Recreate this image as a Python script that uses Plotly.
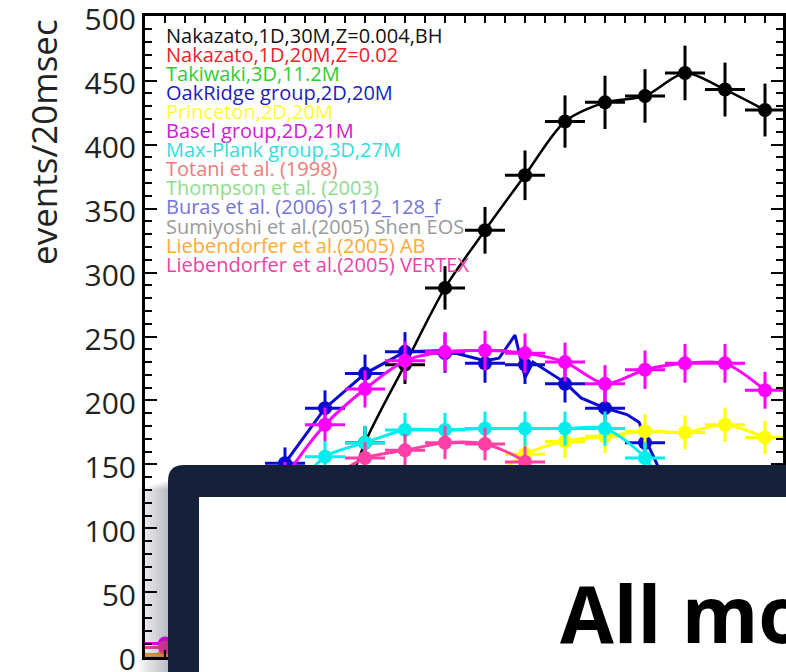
import numpy as np
import plotly.graph_objects as go

# Bin centres (ms after bounce), 20 ms bins
t_ms = [10, 30, 50, 70, 90, 110, 130, 150, 170, 190, 210, 230, 250, 270, 290, 310]

# events / 20 msec for each model
nakazato_30m_bh = [1, 2, 4, 20, 80, 167, 228, 288, 333, 376, 418, 433, 438, 456, 443, 427]
nakazato_20m = [1, 30, 60, 80, 90, 95, 95, 92, 88, 84, 80, 76, 72, 68, 64, 60]
takiwaki_3d = [1, 25, 55, 75, 85, 90, 88, 85, 80, 76, 72, 68, 64, 60, 56, 52]
oakridge_2d = [1, 40, 100, 151, 194, 221, 238, 237, 229, 228, 213, 194, 167, 110, 60, 30]
princeton_2d = [1, 15, 40, 70, 95, 110, 120, 128, 135, 158, 168, 172, 176, 175, 181, 171]
basel_2d = [10, 35, 90, 140, 181, 209, 231, 238, 239, 237, 230, 213, 224, 229, 229, 208]
maxplank_3d = [1, 25, 70, 120, 156, 167, 177, 177, 178, 178, 178, 178, 155, 100, 60, 40]
totani_1998 = [1, 40, 80, 100, 110, 118, 124, 128, 130, 125, 115, 105, 95, 88, 80, 75]
thompson_2003 = [1, 35, 70, 90, 100, 104, 104, 100, 96, 92, 88, 84, 80, 76, 72, 68]
buras_2006 = [1, 30, 65, 85, 95, 100, 100, 98, 94, 90, 86, 82, 78, 74, 70, 66]
sumiyoshi_2005 = [1, 30, 60, 82, 92, 98, 98, 96, 92, 88, 84, 80, 76, 72, 68, 64]
liebendorfer_ab = [1, 32, 66, 88, 98, 104, 106, 104, 100, 96, 90, 86, 82, 78, 74, 70]
liebendorfer_vertex = [7, 25, 60, 100, 135, 155, 161, 167, 166, 152, 120, 90, 75, 65, 58, 52]

# finer-resolution OakRidge rate (the unbinned curve)
oakridge_fine_t = [10, 30, 50, 70, 90, 110, 130, 150, 170, 177, 185, 190, 194,
                   210, 218, 230, 241, 247, 251, 262, 275, 290, 310]
oakridge_fine = [1, 40, 100, 151, 194, 221, 238, 239, 231, 233, 251, 218, 230,
                 214, 202, 194, 189, 183, 167, 130, 90, 60, 30]

labels = [
    "Nakazato,1D,30M,Z=0.004,BH",
    "Nakazato,1D,20M,Z=0.02",
    "Takiwaki,3D,11.2M",
    "OakRidge group,2D,20M",
    "Princeton,2D,20M",
    "Basel group,2D,21M",
    "Max-Plank group,3D,27M",
    "Totani et al. (1998)",
    "Thompson et al. (2003)",
    "Buras et al. (2006) s112_128_f",
    "Sumiyoshi et al.(2005) Shen EOS",
    "Liebendorfer et al.(2005) AB",
    "Liebendorfer et al.(2005) VERTEX",
]
series = [nakazato_30m_bh, nakazato_20m, takiwaki_3d, oakridge_2d, princeton_2d,
          basel_2d, maxplank_3d, totani_1998, thompson_2003, buras_2006,
          sumiyoshi_2005, liebendorfer_ab, liebendorfer_vertex]
line_colors = ["#000000", "#ff2020", "#22cc22", "#0a0ad0", "#ffff00", "#ff00ff",
               "#00eeee", "#f08080", "#90ee90", "#7070e0", "#999999", "#ffaa22", "#ff3fa6"]
text_colors = ["#111111", "#e8242a", "#2fcc2f", "#1c1cc0", "#ffff33", "#d020d0",
               "#33dddd", "#ee7a7a", "#8edc8e", "#7474d8", "#9a9a9a", "#ffaa33", "#ee3fa8"]

W, H = 786, 672
L, R, T, B = 145, 783, 16, 657


def px(x):
    return (x - L) / (R - L)


def py(y):
    return (B - y) / (B - T)


fig = go.Figure()
for name, vals, col in zip(labels, series, line_colors):
    v = np.array(vals, dtype=float)
    if name.startswith("OakRidge"):
        # jagged unbinned curve, binned crosses on top
        fig.add_trace(go.Scatter(
            x=oakridge_fine_t, y=oakridge_fine, mode="lines",
            line=dict(color=col, width=3), showlegend=False, hoverinfo="skip",
        ))
        mode = "markers"
    else:
        mode = "lines+markers"
    fig.add_trace(go.Scatter(
        x=t_ms, y=v, name=name, mode=mode,
        line=dict(color=col, width=3 if col != "#000000" else 2.5, shape="spline", smoothing=0.8),
        marker=dict(color=col, size=14),
        error_y=dict(type="data", array=np.sqrt(v), color=col, thickness=3, width=0),
        error_x=dict(type="constant", value=10, color=col, thickness=3, width=0),
        showlegend=False,
    ))

# colour-coded model list
annotations = []
for i, (name, col) in enumerate(zip(labels, text_colors)):
    annotations.append(dict(
        x=px(164), y=py(35 + i * 19.1), xref="paper", yref="paper",
        text=name, showarrow=False, xanchor="left", yanchor="middle",
        font=dict(family="Open Sans", size=20, color=col),
    ))

annotations.append(dict(
    x=px(44), y=py(142), xref="paper", yref="paper", text="events/20msec",
    textangle=-90, showarrow=False, xanchor="center", yanchor="middle",
    font=dict(family="Open Sans", size=35, color="#222222"),
))

annotations.append(dict(
    x=px(558), y=py(613), xref="paper", yref="paper", text="<b>All models</b>",
    showarrow=False, xanchor="left", yanchor="middle",
    font=dict(family="Open Sans", size=78, color="#000000"),
))

shapes = []
# soft drop shadow on the left of the panel
for k in range(10):
    d = 3 * (k + 1)
    shapes.append(dict(
        type="rect", xref="paper", yref="paper",
        x0=px(168 - d), x1=px(900), y0=py(480 + d * 0.3), y1=py(900),
        line=dict(width=0), fillcolor="rgba(30,40,70,0.03)", layer="above",
    ))

# navy framed panel with rounded top-left corner
r = 16
x0, y0 = 168, 465
path = (f"M {px(x0)},{py(900)} L {px(x0)},{py(y0 + r)} "
        f"Q {px(x0)},{py(y0)} {px(x0 + r)},{py(y0)} "
        f"L {px(900)},{py(y0)} L {px(900)},{py(900)} Z")
shapes.append(dict(type="path", xref="paper", yref="paper", path=path,
                   fillcolor="#15213a", line=dict(width=0), layer="above"))
shapes.append(dict(type="rect", xref="paper", yref="paper",
                   x0=px(199), x1=px(900), y0=py(497), y1=py(900),
                   fillcolor="#ffffff", line=dict(width=0), layer="above"))

fig.update_layout(
    width=W, height=H,
    margin=dict(l=L, r=W - R, t=T, b=H - B, autoexpand=False),
    paper_bgcolor="white", plot_bgcolor="white",
    annotations=annotations, shapes=shapes,
    font=dict(family="Open Sans", color="#222222"),
)
fig.update_xaxes(
    range=[0, 319], showline=True, linecolor="black", linewidth=3, mirror="ticks",
    ticks="inside", ticklen=7, tickwidth=1.5, tickcolor="black", dtick=10, tick0=0,
    showticklabels=False, showgrid=False, zeroline=False, automargin=False,
)
fig.update_yaxes(
    range=[-0.5, 500.5], showline=True, linecolor="black", linewidth=3, mirror="ticks",
    ticks="inside", ticklen=12, tickwidth=1.5, tickcolor="black", dtick=50, tick0=0,
    minor=dict(ticks="inside", ticklen=7, dtick=10, tickwidth=1.5, tickcolor="black", showgrid=False),
    tickfont=dict(family="Open Sans", size=30, color="#222222"),
    ticklabeloverflow="allow", automargin=False, ticklabelshift=3,
    showgrid=False, zeroline=False,
)

fig.write_html("out.html")
